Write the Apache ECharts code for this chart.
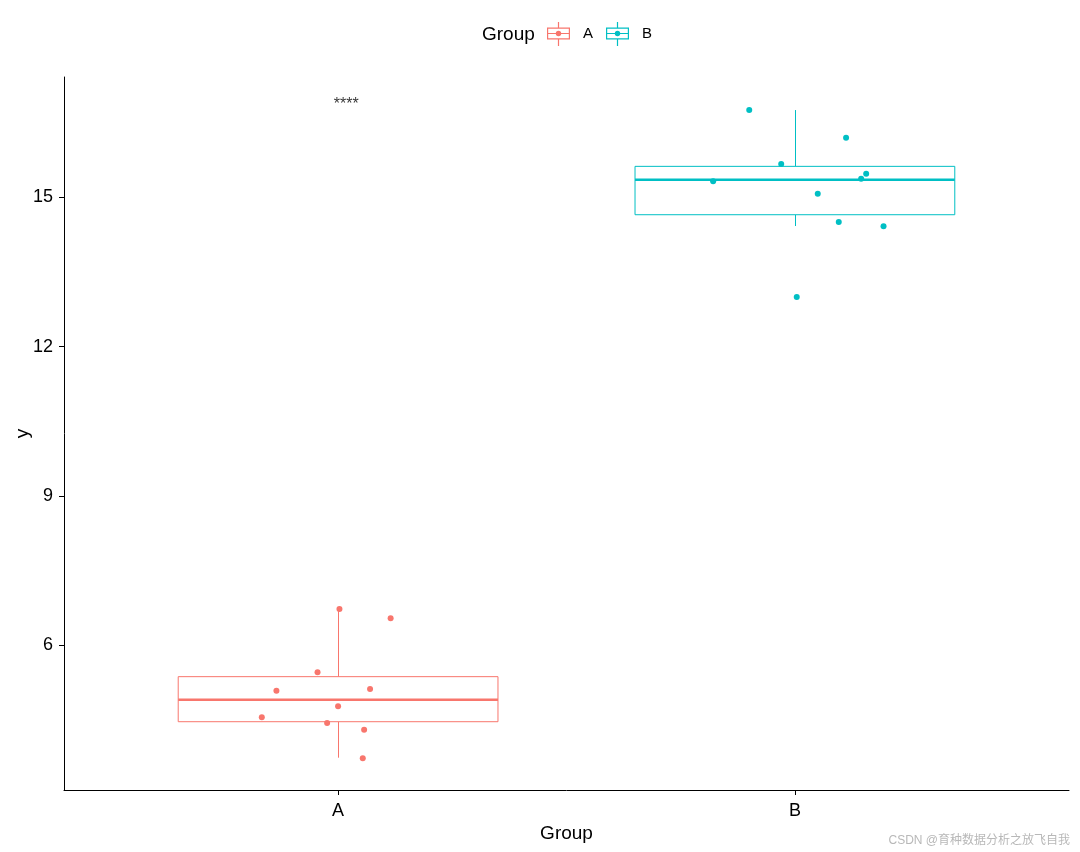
<!DOCTYPE html>
<html>
<head>
<meta charset="utf-8">
<script src="https://cdn.jsdelivr.net/npm/echarts@6/dist/echarts.min.js"></script>
<style>html,body{margin:0;padding:0;background:#fff}#c{width:1080px;height:852px}</style>
</head>
<body>
<div id="c"></div>
<script>
// ---- data ----
const categories = ['A', 'B'];
const groupPos = [1, 2];
const colors = ['#F8766D', '#00BFC4'];
const whiskerLow = [3.742, 14.423];
const q1 = [4.465, 14.650];
const medians = [4.907, 15.353];
const q3 = [5.370, 15.622];
const whiskerHigh = [6.729, 16.753];
const aJitterX = [1.003, 1.115, 0.955, 0.865, 1.070, 1.000, 0.833, 0.976, 1.057, 1.054];
const aValues  = [6.729, 6.542, 5.458, 5.088, 5.122, 4.775, 4.554, 4.439, 4.305, 3.730];
const bJitterX = [1.900, 2.112, 1.970, 2.156, 2.145, 1.821, 2.050, 2.096, 2.194, 2.004];
const bValues  = [16.753, 16.197, 15.669, 15.474, 15.373, 15.321, 15.072, 14.503, 14.417, 12.997];
const yTicks = [6, 9, 12, 15];
const sigLabel = '****';
const sigPos = [1.018, 16.86];
const boxWidth = 0.7;

const FONT = '"Liberation Sans", Arial, sans-serif';

function boxSeries(i) {
  return {
    name: categories[i],
    type: 'custom',
    data: [[groupPos[i], whiskerLow[i], q1[i], medians[i], q3[i], whiskerHigh[i]]],
    encode: { x: 0, y: [1, 2, 3, 4, 5] },
    z: 2,
    silent: true,
    renderItem: function (params, api) {
      const x = api.value(0);
      const pL = api.coord([x, api.value(1)]);
      const p1 = api.coord([x, api.value(2)]);
      const pM = api.coord([x, api.value(3)]);
      const p3 = api.coord([x, api.value(4)]);
      const pH = api.coord([x, api.value(5)]);
      const hw = api.size([boxWidth, 0])[0] / 2;
      const c = colors[i];
      const cx = Math.round(pM[0]) + 0.5;
      return {
        type: 'group',
        children: [
          { type: 'line', shape: { x1: cx, y1: pH[1], x2: cx, y2: p3[1] }, style: { stroke: c, lineWidth: 1 } },
          { type: 'line', shape: { x1: cx, y1: p1[1], x2: cx, y2: pL[1] }, style: { stroke: c, lineWidth: 1 } },
          { type: 'rect', shape: { x: pM[0] - hw, y: p3[1], width: 2 * hw, height: p1[1] - p3[1] },
            style: { fill: '#fff', stroke: c, lineWidth: 1 } },
          { type: 'line', shape: { x1: pM[0] - hw, y1: pM[1], x2: pM[0] + hw, y2: pM[1] }, style: { stroke: c, lineWidth: 2.6 } }
        ]
      };
    }
  };
}

function pointSeries(i, xs, ys) {
  return {
    name: categories[i],
    type: 'scatter',
    data: xs.map((x, k) => [x, ys[k]]),
    symbol: 'circle',
    symbolSize: 6,
    z: 3,
    itemStyle: { color: colors[i], opacity: 1 },
    emphasis: { disabled: true },
    silent: true
  };
}

const legendIcon = 'path://M0 55L230 55L230 175L0 175Z M12 67L12 163L218 163L218 67Z ' +
  'M12 109L218 109L218 121L12 121Z M109 0L121 0L121 55L109 55Z M109 175L121 175L121 240L109 240Z ' +
  'M88 115A27 27 0 1 1 142 115A27 27 0 1 1 88 115Z';

const chart = echarts.init(document.getElementById('c'), null, { renderer: 'canvas' });
chart.setOption({
  animation: false,
  backgroundColor: '#fff',
  textStyle: { fontFamily: FONT },
  grid: { left: 64, right: 11, top: 77, bottom: 62, containLabel: false, outerBoundsMode: 'none' },
  xAxis: {
    type: 'value', min: 0.4, max: 2.6,
    name: 'Group', nameLocation: 'middle', nameGap: 34, nameMoveOverlap: false,
    nameTextStyle: { fontSize: 19, color: '#000', fontFamily: FONT },
    axisLine: { show: true, lineStyle: { color: '#000', width: 1 } },
    axisTick: { show: true, length: 5, customValues: groupPos, lineStyle: { color: '#000' } },
    axisLabel: { customValues: groupPos, fontSize: 18, color: '#000', margin: 12, fontFamily: FONT,
      formatter: v => categories[groupPos.indexOf(v)] },
    splitLine: { show: false }
  },
  yAxis: {
    type: 'value', min: 3.093, max: 17.417,
    name: 'y', nameLocation: 'middle', nameGap: 32, nameMoveOverlap: false,
    nameTextStyle: { fontSize: 19, color: '#000', fontFamily: FONT },
    axisLine: { show: true, lineStyle: { color: '#000', width: 1 } },
    axisTick: { show: true, length: 5, customValues: yTicks, lineStyle: { color: '#000' } },
    axisLabel: { customValues: yTicks, fontSize: 18, color: '#000', margin: 11, fontFamily: FONT },
    splitLine: { show: false }
  },
  legend: {
    left: 547, top: 22, padding: 0,
    itemWidth: 23, itemHeight: 24, itemGap: 13,
    selectedMode: false,
    data: categories.map((n, i) => ({ name: n, icon: legendIcon, itemStyle: { color: colors[i] } })),
    textStyle: { fontSize: 15, color: '#000', fontFamily: FONT, padding: [2, 0, 0, 8] }
  },
  graphic: [
    { type: 'text', left: 482, top: 25, style: { text: 'Group', fontSize: 19, fill: '#000', fontFamily: FONT } },
    { type: 'text', right: 10, top: 835, style: { text: 'CSDN @育种数据分析之放飞自我', fontSize: 12, fill: '#b8b8b8',
      fontFamily: '"Liberation Sans", "Noto Sans CJK SC", sans-serif' } }
  ],
  series: [
    boxSeries(0), boxSeries(1),
    pointSeries(0, aJitterX, aValues),
    pointSeries(1, bJitterX, bValues),
    {
      type: 'scatter', name: 'sig', data: [sigPos], symbolSize: 0, silent: true,
      label: { show: true, position: 'inside', formatter: sigLabel, fontSize: 16, color: '#000', fontFamily: FONT }
    }
  ]
});
</script>
</body>
</html>
